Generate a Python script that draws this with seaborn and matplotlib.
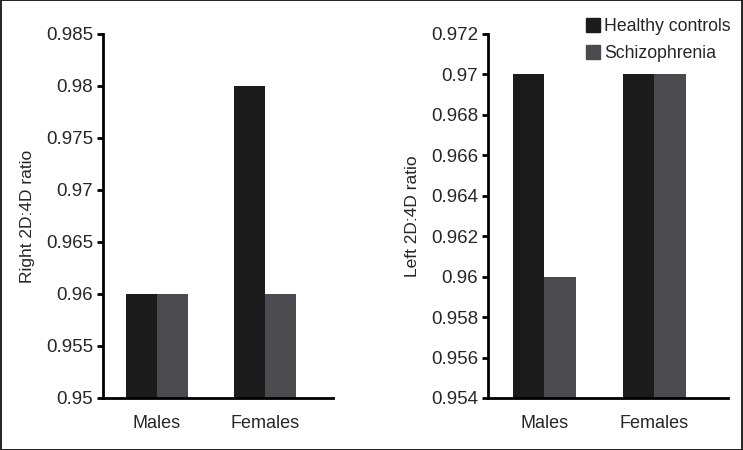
import matplotlib
matplotlib.use("Agg")
import matplotlib.pyplot as plt
import seaborn as sns
import pandas as pd
from matplotlib.patches import Rectangle
from matplotlib.lines import Line2D

sns.set_theme(style="white")
plt.rcParams['font.family'] = ['Liberation Sans', 'DejaVu Sans']

groups = ["Males", "Females"]
series = ["Healthy controls", "Schizophrenia"]
right_hc = [0.96, 0.98]
right_sz = [0.96, 0.96]
left_hc = [0.97, 0.97]
left_sz = [0.96, 0.97]
right_ticks = [0.95, 0.955, 0.96, 0.965, 0.97, 0.975, 0.98, 0.985]
right_ticklabels = ["0.95", "0.955", "0.96", "0.965", "0.97", "0.975", "0.98", "0.985"]
left_ticks = [0.954, 0.956, 0.958, 0.96, 0.962, 0.964, 0.966, 0.968, 0.97, 0.972]
left_ticklabels = ["0.954", "0.956", "0.958", "0.96", "0.962", "0.964", "0.966", "0.968", "0.97", "0.972"]
colors = ["#1b1b1b", "#4b4b4f"]

def long_df(hc, sz):
    return pd.DataFrame({
        "group": groups * 2,
        "series": [series[0]] * 2 + [series[1]] * 2,
        "value": hc + sz,
    })

fig = plt.figure(figsize=(7.43, 4.5), dpi=100)
ax1 = fig.add_axes([0.1386, 0.1156, 0.3096, 0.809])
ax2 = fig.add_axes([0.6568, 0.1156, 0.323, 0.809])

specs = [
    (ax1, long_df(right_hc, right_sz), right_ticks, right_ticklabels, "Right 2D:4D ratio", (-0.5, 1.63)),
    (ax2, long_df(left_hc, left_sz), left_ticks, left_ticklabels, "Left 2D:4D ratio", (-0.51, 1.67)),
]
for ax, df, ticks, tlabels, ylabel, xlim in specs:
    sns.barplot(data=df, x="group", y="value", hue="series", palette=colors,
                width=0.57, ax=ax, legend=False, saturation=1, linewidth=0)
    ax.set_ylim(ticks[0], ticks[-1])
    ax.set_yticks(ticks)
    ax.set_yticklabels(tlabels, fontsize=13.5)
    ax.set_xlim(*xlim)
    ax.set_xlabel("")
    ax.set_ylabel(ylabel, fontsize=12.5, labelpad=8)
    ax.tick_params(axis="x", length=0, labelsize=13, pad=12)
    ax.tick_params(axis="y", length=4, width=2, direction="out", color="black", pad=3, left=True)
    for s in ["top", "right"]:
        ax.spines[s].set_visible(False)
    for s in ["left", "bottom"]:
        ax.spines[s].set_color("black")
        ax.spines[s].set_linewidth(2)
    ax.set_facecolor("white")

handles = [Line2D([0], [0], marker="s", linestyle="none", markersize=10,
                  markerfacecolor=c, markeredgecolor=c) for c in colors]
fig.legend(handles, series, loc="upper left", bbox_to_anchor=(0.777, 0.975),
           frameon=False, fontsize=12.7, handletextpad=0.1, labelspacing=0.55,
           handlelength=1.0, borderaxespad=0)

fig.patches.append(Rectangle((0.001, 0.001), 0.998, 0.998, transform=fig.transFigure,
                             fill=False, edgecolor="black", linewidth=1.2))
fig.savefig("out.png", dpi=100, facecolor="white")
